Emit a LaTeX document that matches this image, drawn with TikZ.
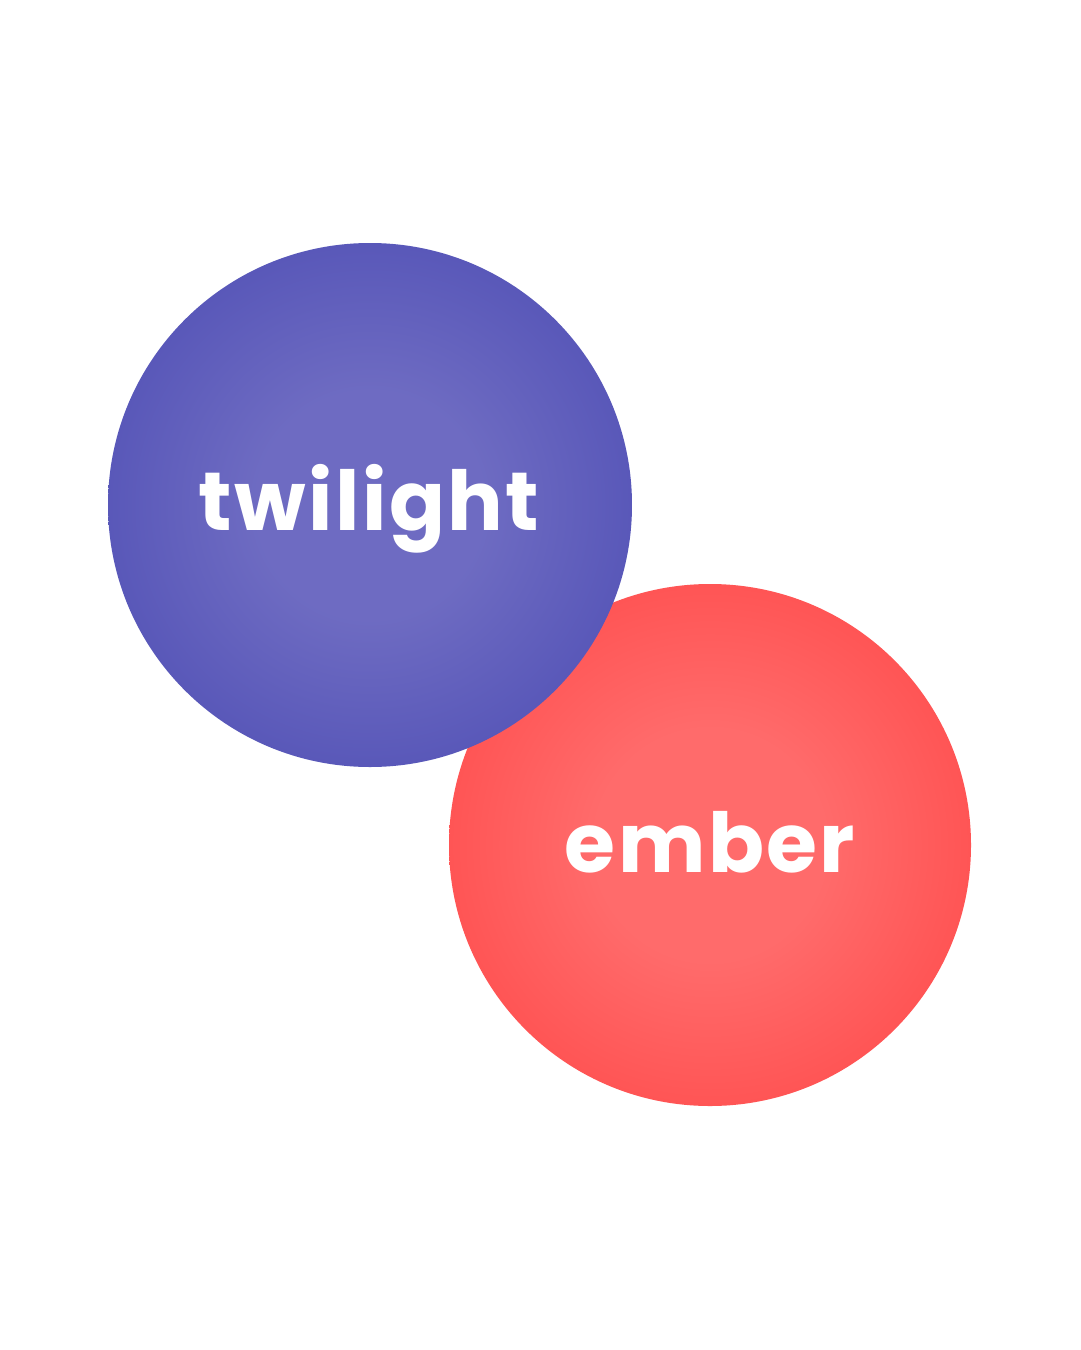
\documentclass[tikz,border=0pt]{standalone}
\usepackage{fontspec}
\newfontfamily\bubblefont[LetterSpace=3]{Poppins}
\pgfdeclareradialshading{twilightglow}{\pgfpointorigin}{rgb(0bp)=(0.43,0.42,0.76); rgb(11bp)=(0.43,0.42,0.76); rgb(25bp)=(0.35,0.345,0.725); rgb(50bp)=(0.35,0.345,0.725)}
\pgfdeclareradialshading{emberglow}{\pgfpointorigin}{rgb(0bp)=(1,0.42,0.42); rgb(11bp)=(1,0.42,0.42); rgb(25bp)=(1,0.333,0.333); rgb(50bp)=(1,0.333,0.333)}
\begin{document}
\begin{tikzpicture}[x=.1mm,y=-.1mm,
 word/.style={text=white,font=\bubblefont\bfseries\fontsize{23.5}{23.5}\selectfont,anchor=base,inner sep=0pt},
 ]
 \useasboundingbox[fill=white] (0,0) rectangle (1080,1350);
 \shade[shading=emberglow] (710,845) circle[radius=261]; % <<< ember
 \shade[shading=twilightglow] (370,505) circle[radius=262]; % <<< twilight
 \path
 (369,530) node[word] (twilight) {twilight}
 (710,872) node[word] (ember) {ember};
\end{tikzpicture}
\end{document}
